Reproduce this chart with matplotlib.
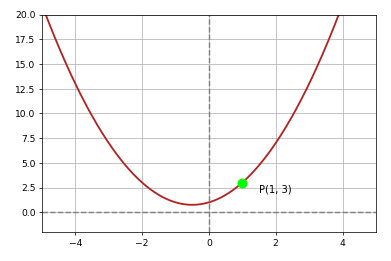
import numpy as np
import matplotlib
matplotlib.use("Agg")
import matplotlib.pyplot as plt

# y = a*x^2 + b*x + c
coeffs = [1, 1, 1]
x_range = [-5, 5]
point = (1, 3)
point_label = "P(1, 3)"

x = np.linspace(x_range[0], x_range[1], 400)
y = np.polyval(coeffs, x)

fig = plt.figure(figsize=(6, 4), dpi=65.33)
ax = fig.add_axes([0.107, 0.111, 0.852, 0.832])

ax.plot(x, y, color="firebrick", lw=2)
ax.axhline(0, color="gray", ls="--", lw=1.6)
ax.axvline(0, color="gray", ls="--", lw=1.6)
ax.plot(point[0], point[1], "o", color="lime", ms=10)
ax.text(point[0] + 0.5, point[1] - 1, point_label, fontsize=11)

ax.set_xlim(x_range)
ax.set_ylim(-2, 20)
ax.set_yticks(np.arange(0, 20.1, 2.5))
ax.grid(True)

fig.savefig("out.png", dpi=65.33)
